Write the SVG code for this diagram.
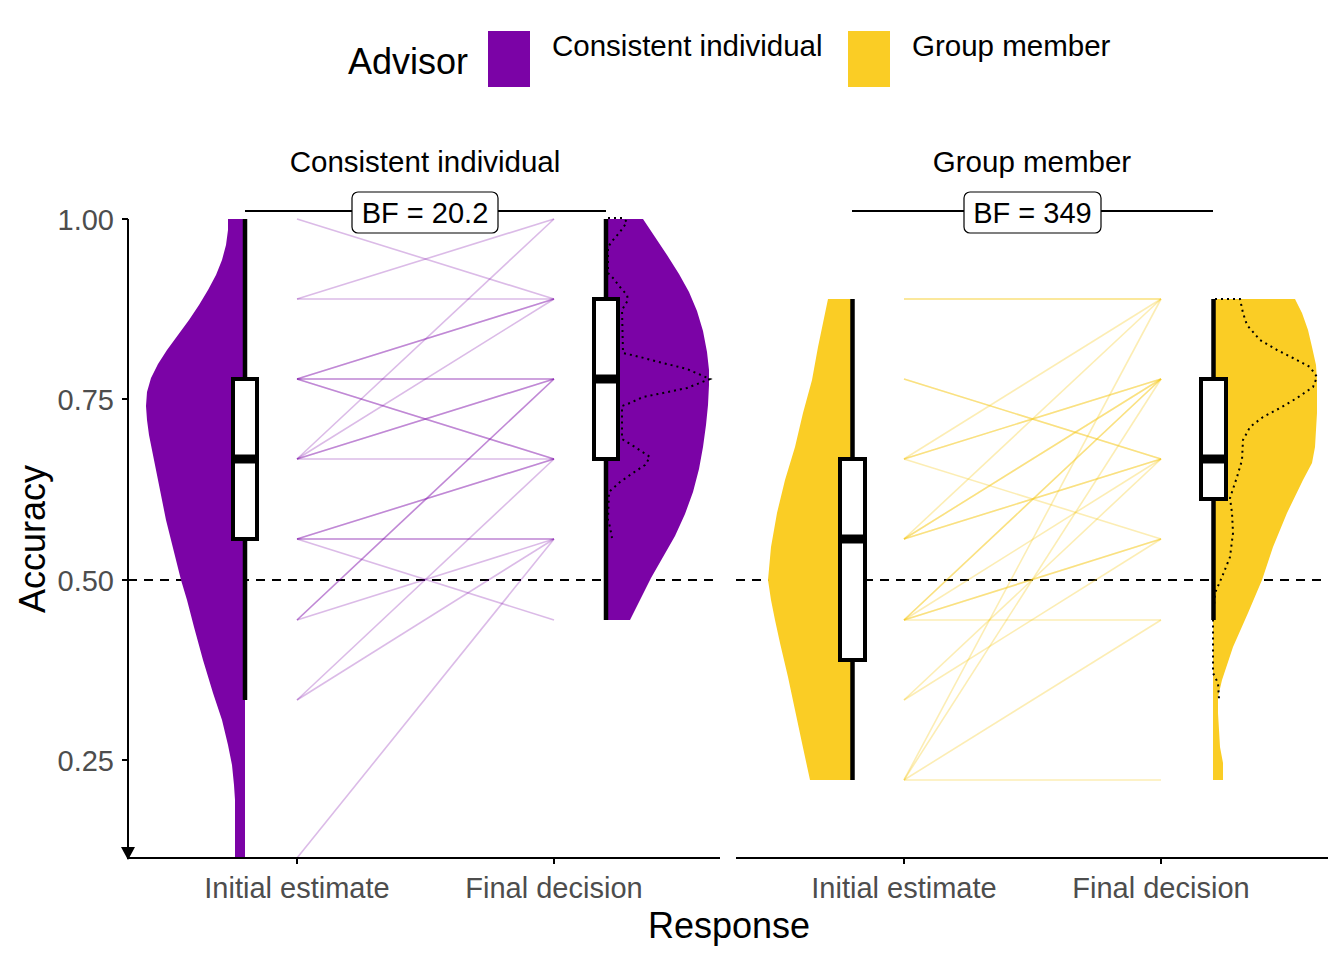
<svg xmlns="http://www.w3.org/2000/svg" width="1344" height="960" viewBox="0 0 1344 960">
<style>
text{font-family:"Liberation Sans",Arial,sans-serif}
.tick{font-size:29px;fill:#4d4d4d}
.title{font-size:29.5px;fill:#000}
.axt{font-size:36px;fill:#000}
.ax{stroke:#000;stroke-width:2;fill:none}
.ref{stroke:#000;stroke-width:2;stroke-dasharray:9 7;fill:none}
.pv{fill:#7b03a6}
.yv{fill:#facd25}
.box{fill:#fff;stroke:#000;stroke-width:4}
.wh{stroke:#000;stroke-width:4.5}
.med{stroke:#000;stroke-width:9}
.dot{fill:none;stroke:#000;stroke-width:2;stroke-dasharray:2 4}
.pl line{stroke:#7b03a6;stroke-opacity:0.27;stroke-width:1.6}
.yl line{stroke:#f5c616;stroke-opacity:0.32;stroke-width:1.6}
.bf{fill:#fff;stroke:#000;stroke-width:1.2}
.bft{font-size:29px;fill:#000;text-anchor:middle}
</style>

<g id="legend">
<text x="348" y="74" style="font-size:36px">Advisor</text>
<rect x="488" y="31" width="42" height="56" class="pv"/>
<text x="552" y="56" class="title">Consistent individual</text>
<rect x="848" y="31" width="42" height="56" class="yv"/>
<text x="912" y="56" class="title">Group member</text>
</g>

<g id="facet-titles">
<text x="425" y="172" class="title" text-anchor="middle">Consistent individual</text>
<text x="1032" y="172" class="title" text-anchor="middle">Group member</text>
</g>

<g id="reference-lines">
<line x1="128" y1="580" x2="720" y2="580" class="ref"/>
<line x1="736" y1="580" x2="1328" y2="580" class="ref"/>
</g>

<g id="left-initial">
<path class="pv" d="M245,219 L228,219 L228,230 L226,245 L222,260 L216,275 L208,290 L199,305 L189,320 L178,335 L167,350 L158,364 L151,378 L147,392 L146,406 L147,420 L149,435 L152,450 L155,465 L158,480 L162,500 L166,520 L171,540 L176,560 L181,580 L187,600 L194,627 L203,660 L213,693 L222,720 L228,745 L232,765 L234,785 L235,800 L235,858 L245,858 Z"/>
<line x1="245" y1="219" x2="245" y2="700" class="wh"/>
<rect x="233" y="379" width="24" height="160" class="box"/>
<line x1="231" y1="459" x2="259" y2="459" class="med"/>
</g>

<g id="left-final">
<path class="pv" d="M606,219 L643,219 L655,237 L667,255 L679,274 L689,292 L697,311 L703,331 L707,352 L709,370 L709,385 L708,405 L706,425 L703,447 L699,469 L693,492 L685,514 L675,536 L663,557 L651,578 L640,600 L630,620 L606,620 Z"/>
<path class="dot" d="M608,218 L623,218 L627,222 L620,232 L613,240 L608,247 L608,273 L613,278 L620,287 L627,295 L628,300 L622,310 L623,353 L640,357 L663,363 L687,369 L710,379 L687,388 L663,393 L643,397 L630,403 L622,406 L622,439 L635,447 L650,457 L645,465 L633,473 L620,482 L609,492 L608,520 L610,527 L612,538"/>
<line x1="606" y1="219" x2="606" y2="620" class="wh"/>
<rect x="594" y="299" width="24" height="160" class="box"/>
<line x1="592" y1="379" x2="620" y2="379" class="med"/>
</g>

<g id="right-initial">
<path class="yv" d="M852,299 L828,299 L823,323 L818,347 L812,380 L803,413 L795,447 L785,480 L777,513 L771,547 L768,580 L771,600 L775,620 L780,643 L788,677 L795,710 L802,743 L810,780 L852,780 Z"/>
<line x1="852.5" y1="299" x2="852.5" y2="780" class="wh"/>
<rect x="840" y="459" width="25" height="201" class="box"/>
<line x1="838" y1="539" x2="867" y2="539" class="med"/>
</g>

<g id="right-final">
<path class="yv" d="M1213,299 L1295,299 L1302,313 L1308,330 L1312,347 L1316,365 L1317,380 L1317,413 L1315,447 L1312,463 L1303,480 L1287,513 L1273,547 L1262,580 L1248,613 L1233,647 L1222,680 L1218,697 L1218,713 L1220,747 L1223,763 L1223,780 L1213,780 Z"/>
<path class="dot" d="M1215,299 L1240,299 L1243,313 L1247,325 L1260,340 L1277,350 L1293,358 L1310,367 L1317,377 L1313,387 L1297,398 L1280,408 L1263,417 L1250,427 L1243,440 L1242,460 L1237,477 L1230,498 L1232,513 L1233,533 L1230,557 L1222,577 L1215,593 L1213,620 L1213,673 L1218,683 L1219,699"/>
<line x1="1213.5" y1="299" x2="1213.5" y2="620" class="wh"/>
<rect x="1201" y="379" width="25" height="120" class="box"/>
<line x1="1199" y1="459" x2="1228" y2="459" class="med"/>
</g>

<g id="connectors">
<g class="pl">
<line x1="297" y1="219" x2="554" y2="299"/>
<line x1="297" y1="299" x2="554" y2="219"/>
<line x1="297" y1="299" x2="554" y2="299"/>
<line x1="297" y1="459" x2="554" y2="299"/>
<line x1="297" y1="459" x2="554" y2="219"/>
<line x1="297" y1="459" x2="554" y2="459"/>
<line x1="297" y1="539" x2="554" y2="620"/>
<line x1="297" y1="620" x2="554" y2="539"/>
<line x1="297" y1="700" x2="554" y2="459"/>
<line x1="297" y1="700" x2="554" y2="539"/>
<line x1="297" y1="858" x2="554" y2="539"/>
<line x1="297" y1="379" x2="554" y2="299"/>
<line x1="297" y1="379" x2="554" y2="299"/>
<line x1="297" y1="379" x2="554" y2="379"/>
<line x1="297" y1="379" x2="554" y2="379"/>
<line x1="297" y1="379" x2="554" y2="459"/>
<line x1="297" y1="379" x2="554" y2="459"/>
<line x1="297" y1="459" x2="554" y2="379"/>
<line x1="297" y1="459" x2="554" y2="379"/>
<line x1="297" y1="539" x2="554" y2="459"/>
<line x1="297" y1="539" x2="554" y2="459"/>
<line x1="297" y1="539" x2="554" y2="539"/>
<line x1="297" y1="539" x2="554" y2="539"/>
<line x1="297" y1="620" x2="554" y2="379"/>
<line x1="297" y1="620" x2="554" y2="379"/>
</g>
<g class="yl">
<line x1="904" y1="299" x2="1161" y2="299"/>
<line x1="904" y1="299" x2="1161" y2="299"/>
<line x1="904" y1="379" x2="1161" y2="459"/>
<line x1="904" y1="379" x2="1161" y2="459"/>
<line x1="904" y1="459" x2="1161" y2="379"/>
<line x1="904" y1="459" x2="1161" y2="379"/>
<line x1="904" y1="539" x2="1161" y2="379"/>
<line x1="904" y1="539" x2="1161" y2="379"/>
<line x1="904" y1="539" x2="1161" y2="459"/>
<line x1="904" y1="539" x2="1161" y2="459"/>
<line x1="904" y1="620" x2="1161" y2="379"/>
<line x1="904" y1="620" x2="1161" y2="379"/>
<line x1="904" y1="620" x2="1161" y2="539"/>
<line x1="904" y1="620" x2="1161" y2="539"/>
<line x1="904" y1="459" x2="1161" y2="299"/>
<line x1="904" y1="459" x2="1161" y2="539"/>
<line x1="904" y1="539" x2="1161" y2="299"/>
<line x1="904" y1="620" x2="1161" y2="459"/>
<line x1="904" y1="620" x2="1161" y2="620"/>
<line x1="904" y1="700" x2="1161" y2="459"/>
<line x1="904" y1="700" x2="1161" y2="539"/>
<line x1="904" y1="780" x2="1161" y2="299"/>
<line x1="904" y1="780" x2="1161" y2="379"/>
<line x1="904" y1="780" x2="1161" y2="620"/>
<line x1="904" y1="780" x2="1161" y2="780"/>
</g>
</g>

<g id="bf-left">
<line x1="245" y1="211" x2="606" y2="211" class="ax"/>
<rect x="352" y="192" width="146" height="41" rx="6" class="bf"/>
<text x="425" y="223" class="bft">BF = 20.2</text>
</g>
<g id="bf-right">
<line x1="852" y1="211" x2="1213" y2="211" class="ax"/>
<rect x="964" y="192" width="137" height="41" rx="6" class="bf"/>
<text x="1032.5" y="223" class="bft">BF = 349</text>
</g>

<g id="y-axis">
<line x1="128" y1="219" x2="128" y2="858" class="ax"/>
<path d="M121,847 L135,847 L128,860 Z" fill="#000"/>
<line x1="122" y1="219" x2="128" y2="219" class="ax"/>
<line x1="122" y1="399" x2="128" y2="399" class="ax"/>
<line x1="122" y1="580" x2="128" y2="580" class="ax"/>
<line x1="122" y1="760" x2="128" y2="760" class="ax"/>
<text x="114" y="230" class="tick" text-anchor="end">1.00</text>
<text x="114" y="410" class="tick" text-anchor="end">0.75</text>
<text x="114" y="591" class="tick" text-anchor="end">0.50</text>
<text x="114" y="771" class="tick" text-anchor="end">0.25</text>
<text transform="translate(45,539) rotate(-90)" class="axt" text-anchor="middle">Accuracy</text>
</g>

<g id="x-axis">
<line x1="127" y1="858" x2="720" y2="858" class="ax"/>
<line x1="736" y1="858" x2="1328" y2="858" class="ax"/>
<line x1="297" y1="858" x2="297" y2="864" class="ax"/>
<line x1="554" y1="858" x2="554" y2="864" class="ax"/>
<line x1="904" y1="858" x2="904" y2="864" class="ax"/>
<line x1="1161" y1="858" x2="1161" y2="864" class="ax"/>
<text x="297" y="898" class="tick" text-anchor="middle">Initial estimate</text>
<text x="554" y="898" class="tick" text-anchor="middle">Final decision</text>
<text x="904" y="898" class="tick" text-anchor="middle">Initial estimate</text>
<text x="1161" y="898" class="tick" text-anchor="middle">Final decision</text>
<text x="729" y="938" class="axt" text-anchor="middle">Response</text>
</g>
</svg>
